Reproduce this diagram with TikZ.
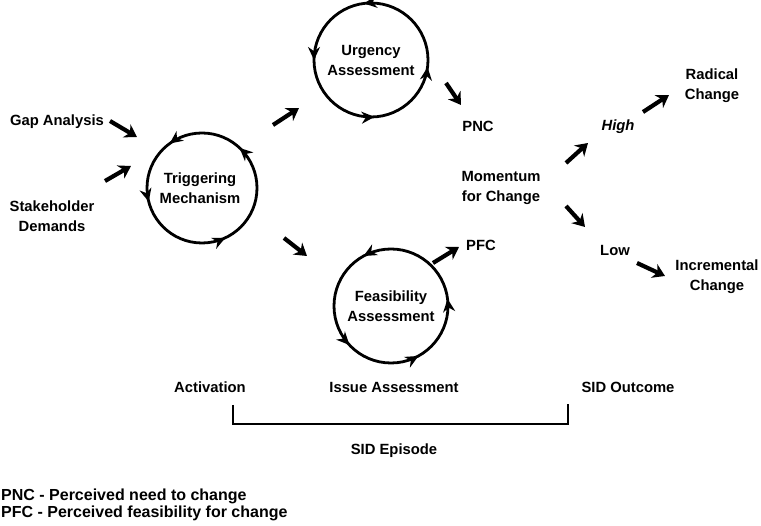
\documentclass[tikz,border=0pt]{standalone}
\usepackage{fontspec}
\setmainfont{Liberation Sans}
\usetikzlibrary{arrows.meta, decorations.markings, calc}

\begin{document}
\begin{tikzpicture}[x=1pt, y=-1pt, >=Stealth,
      font=\bfseries\fontsize{14.8}{20}\selectfont,
      lbl/.style={align=center, inner sep=1pt},
      key/.style={anchor=west, inner sep=1pt, font=\bfseries\fontsize{16}{17}\selectfont},
      phase/.style={circle, minimum size=114pt, inner sep=0pt, outer sep=0pt, align=center},
      fat/.style={->, line width=4.2pt, >={Stealth[length=12pt, width=15pt]}},
      cyc/.style n args={4}{line width=2.8pt, postaction={decorate},
        decoration={markings,
          mark=at position #1 with {\arrow{Stealth[length=13pt, width=12pt]}},
          mark=at position #2 with {\arrow{Stealth[length=13pt, width=12pt]}},
          mark=at position #3 with {\arrow{Stealth[length=13pt, width=12pt]}},
          mark=at position #4 with {\arrow{Stealth[length=13pt, width=12pt]}}}}]
    \useasboundingbox (0,0) rectangle (761,526);

    % the three cycles
    \node[phase] (urg) at (371,60) {Urgency\\Assessment};
    \node[phase] (trig) at (200,188) {Triggering\\Mechanism};
    \node[phase] (feas) at (391,306) {Feasibility\\Assessment};
    \draw[cyc={0.27}{0.5}{0.76}{0.98}] (urg.east) arc[start angle=0, end angle=-360, radius=57];
    \draw[cyc={0.13}{0.35}{0.54}{0.82}] (trig.east) arc[start angle=0, end angle=-360, radius=55];
    \draw[cyc={0.02}{0.33}{0.62}{0.83}] (feas.east) arc[start angle=0, end angle=-360, radius=57];

    % labels
    \node[lbl] (gap) at (57,122) {Gap Analysis};
    \node[lbl] (stake) at (52,216) {Stakeholder\\Demands};
    \node[lbl] (pnc) at (478,126) {PNC};
    \node[lbl] (pfc) at (481,245) {PFC};
    \node[lbl] (mom) at (501,188) {Momentum\\for Change};
    \node[lbl] (high) at (618,127) {\itshape High};
    \node[lbl] (low) at (615,250) {Low};
    \node[lbl] (rad) at (712,86) {Radical\\Change};
    \node[lbl] (inc) at (717,277) {Incremental\\Change};
    \node[lbl] (act) at (210,387) {Activation};
    \node[lbl] (iss) at (394,387) {Issue Assessment};
    \node[lbl] (out) at (628,387) {SID Outcome};
    \node[lbl] (epi) at (394,451) {SID Episode};
    \node[key] (key1) at (0,496) {PNC - Perceived need to change};
    \node[key] (key2) at (0,513) {PFC - Perceived feasibility for change};

    % arrow ends
    \coordinate (ga1) at (110,121); \coordinate (ga2) at (137,137);
    \coordinate (sd1) at (105,181); \coordinate (sd2) at (131,166);
    \coordinate (tu1) at (273,125); \coordinate (tu2) at (299,108);
    \coordinate (tf1) at (284,238); \coordinate (tf2) at (307,256);
    \coordinate (up1) at (446,83);  \coordinate (up2) at (461,105);
    \coordinate (fp1) at (433,263); \coordinate (fp2) at (459,247);
    \coordinate (mh1) at (566,163); \coordinate (mh2) at (588,143);
    \coordinate (hr1) at (643,112); \coordinate (hr2) at (669,95);
    \coordinate (ml1) at (566,206); \coordinate (ml2) at (585,227);
    \coordinate (li1) at (637,263); \coordinate (li2) at (665,276);

    \foreach \a in {ga, sd, tu, tf, up, fp, mh, hr, ml, li}
      \draw[fat] (\a1) -- (\a2);

    % episode bracket
    \coordinate (bl) at (233,405);
    \coordinate (br) at (568,404);
    \draw[line width=1.6pt] (bl) |- (br |- 0,424) -- (br);
  \end{tikzpicture}
\end{document}
